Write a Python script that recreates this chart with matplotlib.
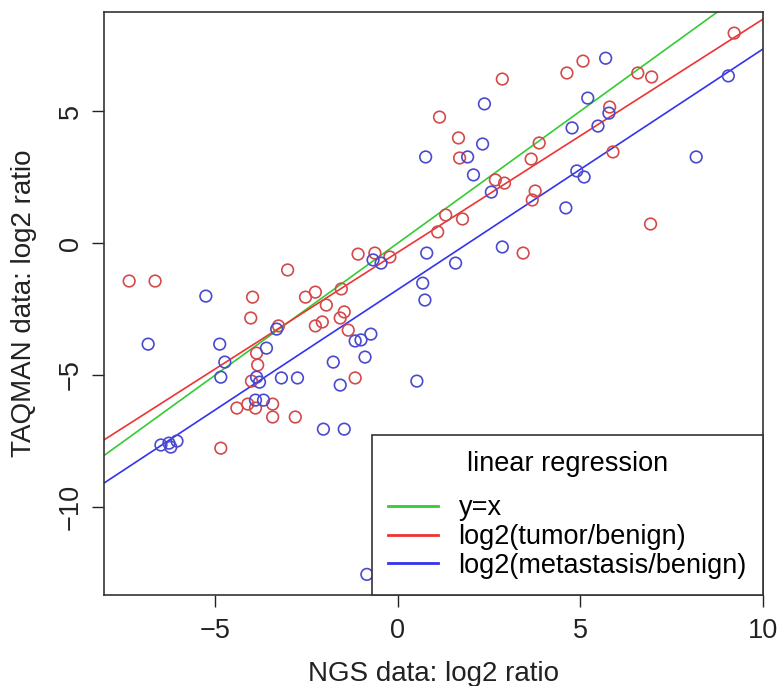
import matplotlib
matplotlib.use('Agg')
import matplotlib.pyplot as plt
from matplotlib.lines import Line2D
import numpy as np

plt.rcParams['font.family'] = ['Liberation Sans', 'DejaVu Sans']

# log2(tumor/benign): NGS vs TAQMAN
tumor_ngs = [1.14, 9.21, 5.07, 4.63, 2.86, 6.57, 6.95, 5.80, 1.66, 3.87,
             1.69, 3.65, 2.67, 2.92, 5.89, 3.76, 3.68, 1.31, 1.77, 1.09,
             6.92, 3.43, -7.36, -6.65, -3.02, -1.09, -0.63, -0.22, -3.98, -4.03,
             -2.53, -2.26, -1.55, -1.96, -1.47, -1.58, -2.26, -2.07, -3.27, -1.36,
             -3.87, -3.84, -4.01, -1.17, -4.41, -4.11, -3.90, -3.43, -3.43, -2.81,
             -4.85]
tumor_taq = [4.77, 7.95, 6.89, 6.44, 6.21, 6.44, 6.29, 5.15, 3.98, 3.79,
             3.22, 3.18, 2.39, 2.27, 3.45, 1.97, 1.63, 1.06, 0.91, 0.42,
             0.72, -0.38, -1.44, -1.44, -1.02, -0.42, -0.38, -0.53, -2.05, -2.84,
             -2.05, -1.86, -1.74, -2.35, -2.61, -2.84, -3.14, -2.99, -3.14, -3.30,
             -4.17, -4.62, -5.23, -5.11, -6.25, -6.10, -6.25, -6.10, -6.59, -6.59,
             -7.77]

# log2(metastasis/benign)
meta_ngs = [0.76, 5.69, 9.05, 2.37, 5.20, 5.78, 4.77, 5.48, 2.32, 1.91,
            2.07, 2.56, 4.90, 5.10, 8.17, 4.60, 2.86, 1.58, -5.26, -0.68,
            -0.46, 0.79, 0.68, 0.74, -3.32, -6.84, -4.88, -4.74, -3.60, -4.85,
            -3.87, -3.79, -3.19, -2.75, -1.17, -1.01, -0.74, -1.77, -0.90, -1.58,
            0.52, -3.90, -3.68, -2.04, -1.47, -6.49, -6.27, -6.22, -6.05, -0.85]
meta_taq = [3.26, 7.00, 6.33, 5.27, 5.49, 4.92, 4.36, 4.43, 3.75, 3.26,
            2.58, 1.93, 2.73, 2.50, 3.26, 1.33, -0.15, -0.76, -2.01, -0.64,
            -0.76, -0.38, -1.52, -2.16, -3.26, -3.83, -3.83, -4.51, -3.98, -5.08,
            -5.08, -5.27, -5.11, -5.11, -3.71, -3.67, -3.45, -4.51, -4.32, -5.38,
            -5.23, -5.95, -5.95, -7.05, -7.05, -7.65, -7.58, -7.73, -7.50, -12.55]

# fitted lines (intercept, slope)
line_names = ['y=x', 'log2(tumor/benign)', 'log2(metastasis/benign)']
line_intercepts = [0.0, -0.35, -1.76]
line_slopes = [1.0, 0.883, 0.911]
line_colors = ['#33cc33', '#ee3333', '#3333ee']

fs = 19.5
txt = '#222222'

fig = plt.figure(figsize=(7.77, 6.86), dpi=100)
ax = fig.add_axes([0.1338, 0.1327, 0.8482, 0.8498])

ax.scatter(tumor_ngs, tumor_taq, s=70, facecolors='none', edgecolors='#d44a4a', linewidths=1.2, zorder=3)
ax.scatter(meta_ngs, meta_taq, s=70, facecolors='none', edgecolors='#4a4ad0', linewidths=1.2, zorder=3)

for b, m, c in zip(line_intercepts, line_slopes, line_colors):
    ax.axline((0, b), slope=m, color=c, lw=1.2, zorder=2)

ax.set_xlim(-8.05, 10.0)
ax.set_ylim(-13.33, 8.75)
ax.set_xticks([-5, 0, 5, 10])
ax.set_yticks([-10, -5, 0, 5])
ax.set_xticklabels(['\u22125', '0', '5', '10'])
ax.set_yticklabels(['\u221210', '\u22125', '0', '5'])
ax.tick_params(axis='both', labelsize=fs, length=8.6, width=1, colors=txt)
ax.tick_params(axis='x', pad=8)
ax.tick_params(axis='y', pad=6, labelrotation=90)
for lab in ax.get_yticklabels():
    lab.set_va('center')
for sp in ax.spines.values():
    sp.set_color('#333333')
    sp.set_linewidth(1.2)

ax.set_xlabel('NGS data: log2 ratio', fontsize=20, color=txt, labelpad=12)
ax.set_ylabel('TAQMAN data: log2 ratio', fontsize=20, color=txt, labelpad=15)

handles = [Line2D([], [], color=c, lw=2) for c in line_colors]
leg = ax.legend(handles, line_names, title='linear regression', loc='lower right',
                bbox_to_anchor=(1.0, 0.0), borderaxespad=0, fontsize=fs,
                title_fontsize=fs, fancybox=False, framealpha=1, edgecolor='#333333',
                handlelength=1.85, handletextpad=0.75, labelspacing=0.1,
                borderpad=0.6)
leg.get_frame().set_linewidth(1.2)
leg.set_zorder(5)
# wider gap between the title and the entries, as in the original
leg._legend_box.sep = 13

fig.savefig('out.png', dpi=100)
